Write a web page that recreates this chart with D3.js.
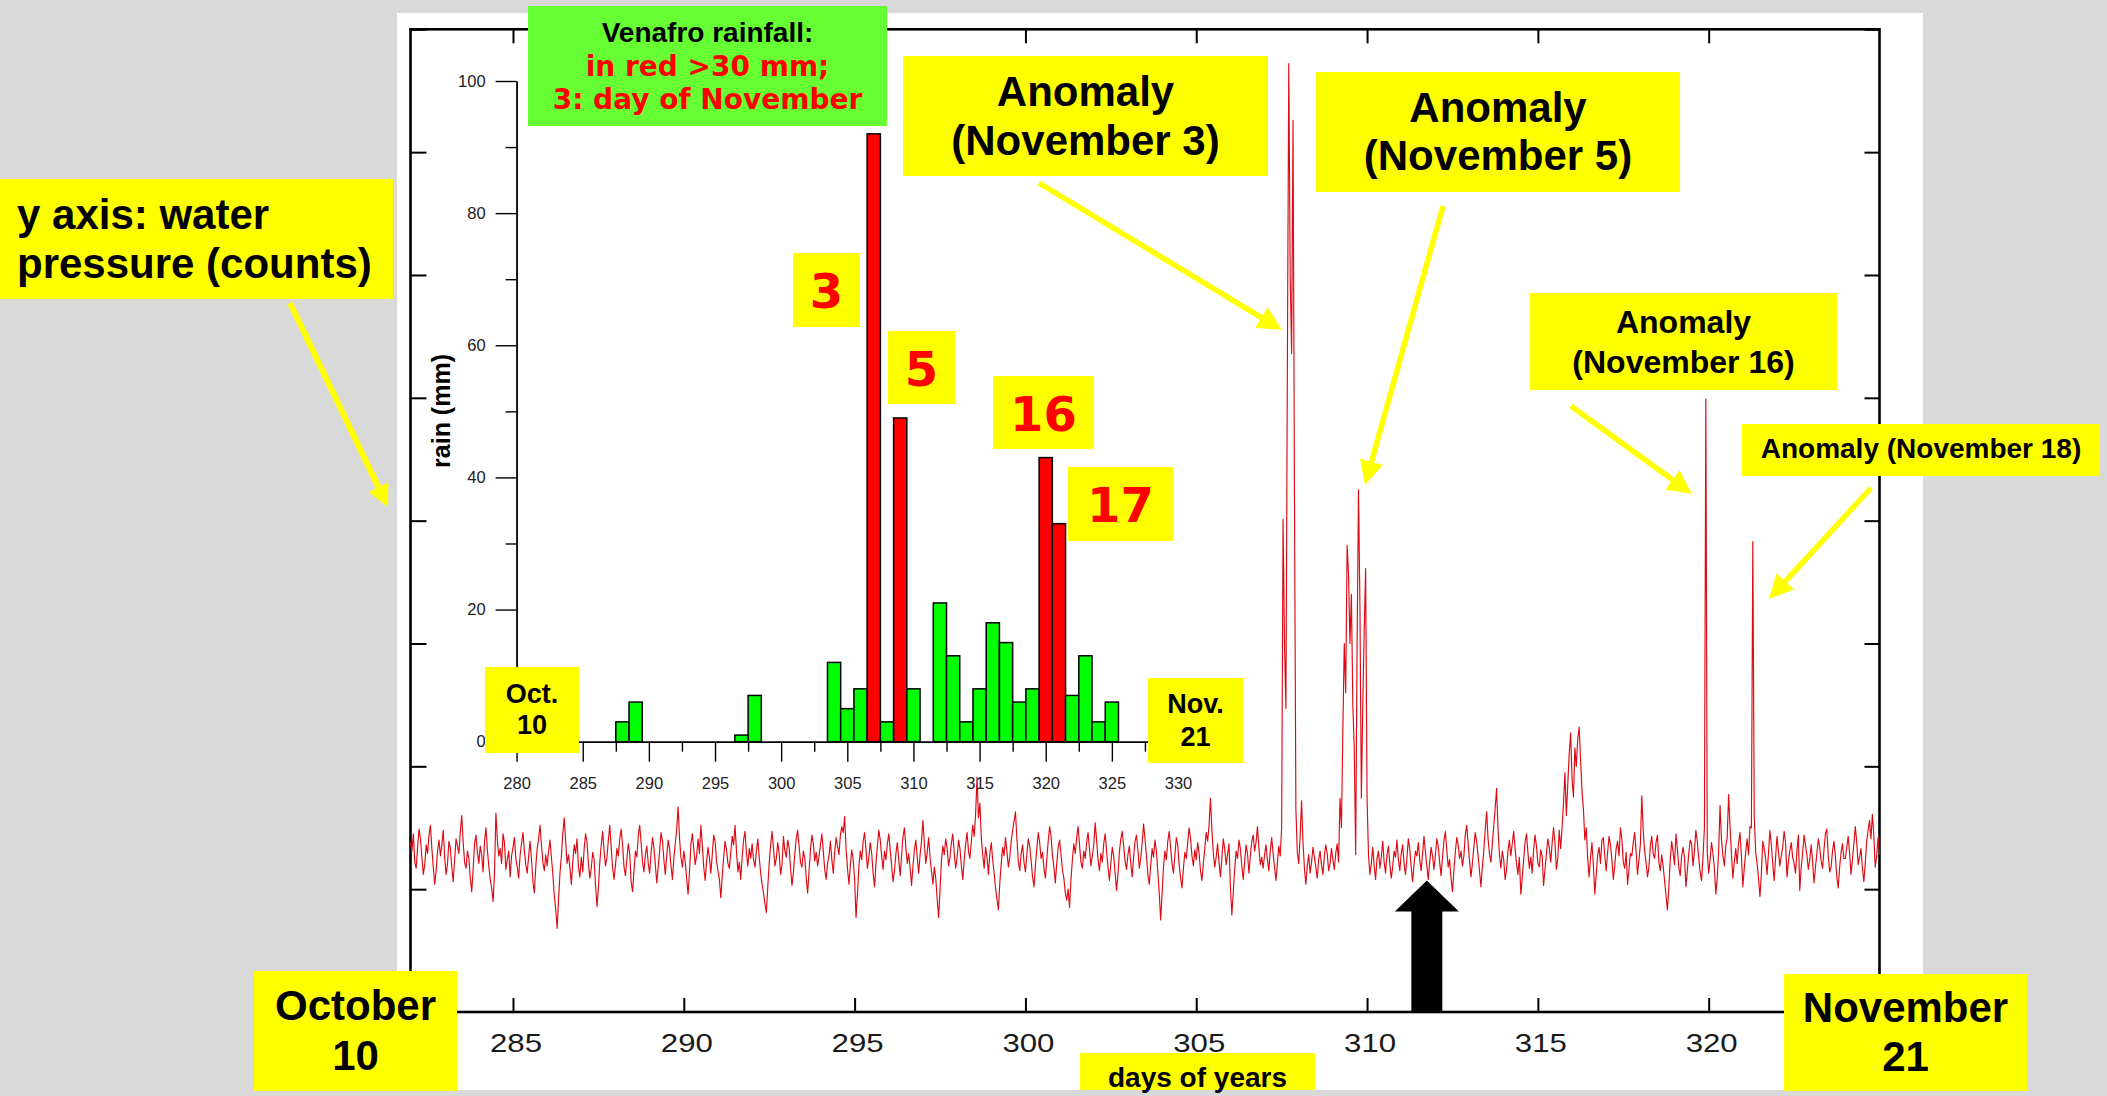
<!DOCTYPE html>
<html>
<head>
<meta charset="utf-8">
<script src="https://cdn.jsdelivr.net/npm/d3@7"></script>
<style>
  html, body { margin: 0; padding: 0; background: #d9d9d9; }
  svg { display: block; }
</style>
</head>
<body>
<svg id="chart" width="2107" height="1096"></svg>
<script>
// ---------------- data ----------------
// Water pressure (counts), hourly samples starting at day-of-year 282
const pressureStartDay = 282;
const samplesPerDay = 24;
const pressure = [
  138,131,145,122,117,134, 149,141,126,112,120,136, 129,144,152,133,118,104, 115,131,140,127,136,148, // 282
  126,112,121,139,133,118, 106,124,141,135,129,147, 160,138,122,117,131,125, 109,98,116,137,144,130,  // 283
  121,135,128,114,139,150, 132,119,108,101,90,112,  162,140,127,133,121,145, 138,116,124,131,110,127, // 284
  134,142,125,118,109,128, 137,146,131,120,113,127, 139,124,106,97,118,133,  141,152,136,122,115,128, // 285
  119,131,140,126,112,95,  84,68,91,113,127,145,    158,139,121,128,117,104, 122,136,129,141,118,110, // 286
  126,114,133,145,138,121, 109,117,130,124,103,86,  101,122,136,147,131,119, 126,140,152,134,117,108, // 287
  120,133,127,141,149,136, 118,111,124,137,129,106, 98,115,131,126,143,152,  138,122,114,128,135,121, // 288
  113,129,142,134,120,105, 118,131,146,139,124,112, 127,140,133,119,108,125, 137,149,167,141,126,118, // 289
  131,122,109,96,114,137,  145,133,120,127,141,129, 152,136,118,107,122,134, 126,113,128,144,139,123, // 290
  115,108,93,110,126,139,  132,121,117,130,143,136, 152,131,114,122,108,126, 140,147,129,119,133,125, // 291
  137,124,118,131,141,126, 113,104,97,88,81,102,    121,136,147,133,119,125, 138,129,112,120,143,131, // 292
  126,140,134,117,103,114, 129,141,148,135,122,118, 131,125,109,97,115,132,  144,137,123,130,119,127, // 293
  136,145,131,116,108,121, 127,139,124,113,130,142, 135,128,144,151,146,159, 133,117,104,119,132,124, // 294
  108,77,96,118,131,124,   139,146,132,117,126,138, 129,113,102,121,135,148, 140,127,116,131,124,137, // 295
  145,132,119,106,115,129, 138,124,111,127,143,150, 134,121,129,117,103,119, 132,140,126,113,128,139, // 296
  156,137,121,130,142,126, 115,104,118,109,92,77,   99,123,135,128,141,133,  119,126,138,145,129,117, // 297
  126,140,133,119,108,124, 137,146,131,125,139,152, 143,161,191,158,170,142, 128,117,134,126,112,129, // 298
  138,124,113,101,92,83,   105,121,134,127,142,131, 118,126,139,148,155,163, 141,123,115,129,136,122, // 299
  114,128,141,135,123,110, 102,119,133,146,138,125, 130,117,109,124,139,151, 143,127,118,105,121,134, // 300
  140,128,116,109,97,91,   100,85,108,124,137,129,  142,151,136,122,117,131, 125,138,146,133,119,127, // 301
  136,154,140,124,115,129, 122,137,145,131,118,107, 121,134,127,113,99,112,  130,141,147,135,123,116, // 302
  128,135,121,110,126,139, 144,132,117,125,138,153, 141,127,112,104,119,133, 126,140,131,114,97,75,   // 303
  96,118,131,124,139,147,  134,121,113,128,142,136, 120,109,101,117,130,125, 138,150,141,127,119,132, // 304
  124,138,129,115,107,121, 133,146,139,152,174,148, 129,118,126,137,122,110, 125,141,133,120,128,137, // 305
  102,79,97,116,131,125,   140,133,119,108,122,136, 129,113,127,139,144,131, 138,151,134,120,126,117, // 306
  128,136,124,115,131,142, 129,118,107,121,135,127, 150,401,300,247,520,772, 600,536,726,420,165,130, // 307
  121,143,172,138,117,104, 119,128,113,122,134,126, 118,109,124,131,120,112, 127,136,129,115,121,133, // 308
  124,116,129,137,122,174, 150,230,300,260,380,356, 300,340,250,215,128,300, 425,330,174,250,310,361, // 309
  174,128,112,121,134,119, 108,125,131,117,126,139, 122,113,128,135,120,109, 118,131,126,140,124,115, // 310
  129,136,121,112,125,141, 133,118,106,120,131,127, 138,124,115,129,143,130, 119,108,122,134,127,116, // 311
  128,141,135,122,111,126, 139,147,132,118,124,109, 98,115,130,142,136,125,  131,119,127,144,152,137, // 312
  123,110,121,134,146,139, 127,115,102,118,131,148, 163,141,129,122,137,151, 166,182,149,128,117,131, // 313
  124,108,116,131,140,127, 137,147,133,121,112,126, 96,109,124,138,145,130,  117,126,113,132,144,135, // 314
  121,118,132,127,103,116, 129,141,134,122,137,150, 138,116,125,148,133,150, 170,195,160,185,210,227, // 315
  190,175,215,200,222,232, 205,180,165,140,150,125, 110,126,138,119,96,112,  128,134,121,140,142,127, // 316
  115,130,143,136,124,108, 119,133,139,127,150,141, 122,117,130,104,116,129, 127,138,146,131,112,124, // 317
  136,176,148,131,122,110, 118,135,143,129,125,138, 144,122,115,128,119,107, 95,83,101,124,139,130,   // 318
  120,145,133,118,111,127, 134,126,102,115,129,140, 137,119,131,148,139,125, 114,107,126,150,499,130, // 319
  113,124,138,129,117,96,  109,131,168,140,127,119, 135,142,177,151,128,109, 122,133,121,138,146,127, // 320
  102,117,130,141,128,151, 150,383,160,130,121,109, 94,112,139,133,125,112,  129,148,136,121,107,126, // 321
  143,131,119,127,134,147, 138,110,122,131,138,126, 121,113,131,144,99,118,  129,144,136,128,116,124, // 322
  136,122,105,118,129,141, 134,123,117,132,145,149, 127,114,118,131,139,127, 110,101,118,130,137,125, // 323
  125,134,143,129,112,124, 137,151,138,120,126,133, 117,106,121,139,148,156, 141,161,144,118,127,142, // 324
  128                                                                                                  // 325
];

// Venafro daily rainfall (mm) by day of year
const rainDays = [285,286,287,288,289,290,291,292,293,294,295,296,297,298,299,300,301,302,303,
                  304,305,306,307,308,309,310,311,312,313,314,315,316,317,318,319,320,321,322,323,324,325];
const rainMm   = [0,0,0,3,6,0,0,0,0,0,0,0,1,7,0,0,0,0,0,
                  12,5,8,92,3,49,8,0,21,13,3,8,18,15,6,8,43,33,7,13,3,6];
const heavyRainMm = 30;

// Tick values
const dayTicks = [285,290,295,300,305,310,315,320];
const countTicks = [0,100,200,300,400,500,600,700,800];
const rainDayTicks = [280,285,290,295,300,305,310,315,320,325,330];
const rainDayMinorTicks = [282.5,287.5,292.5,297.5,302.5,307.5,312.5,317.5,322.5,327.5];
const rainTicks = [0,20,40,60,80,100];
const rainMinorTicks = [10,30,50,70,90];

// Low-pressure marker (black arrow) position
const markerDay = 311.75;
const markerCount = 107;

// ---------------- drawing ----------------
const svg = d3.select("#chart");
const ARIAL = "'Liberation Sans', Arial, sans-serif";
const VERDANA = "'DejaVu Sans', Verdana, sans-serif";
const YELLOW = "#ffff00";

// page and white panel
svg.append("rect").attr("width", 2107).attr("height", 1096).attr("fill", "#d9d9d9");
svg.append("rect").attr("x", 397).attr("y", 13).attr("width", 1526).attr("height", 1077).attr("fill", "#fff");

// main pressure plot
const frame = { left: 410.5, right: 1879.5, top: 29.3, bottom: 1012 };
const x = d3.scaleLinear().domain([282, 325]).range([frame.left, frame.right]);
const y = d3.scaleLinear().domain([0, 800]).range([frame.bottom, frame.top]);

const main = svg.append("g");

const axisStyle = (g, w) => {
  g.select(".domain").remove();
  g.selectAll(".tick line").attr("stroke", "#000").attr("stroke-width", w);
};

main.append("g").attr("transform", `translate(0,${frame.bottom})`)
  .call(d3.axisBottom(x).tickValues(dayTicks).tickSize(-14).tickFormat(""))
  .call(g => axisStyle(g, 2));
main.append("g").attr("transform", `translate(0,${frame.top})`)
  .call(d3.axisTop(x).tickValues(dayTicks).tickSize(-14).tickFormat(""))
  .call(g => axisStyle(g, 2));
main.append("g").attr("transform", `translate(${frame.left},0)`)
  .call(d3.axisLeft(y).tickValues(countTicks).tickSize(-16).tickFormat(""))
  .call(g => axisStyle(g, 2));
main.append("g").attr("transform", `translate(${frame.right},0)`)
  .call(d3.axisRight(y).tickValues(countTicks).tickSize(-15).tickFormat(""))
  .call(g => axisStyle(g, 2));

// day labels under the bottom axis
main.append("g").selectAll("text").data(dayTicks).join("text")
  .attr("transform", d => `translate(${x(d) + 3},1052) scale(1.2,1)`)
  .attr("text-anchor", "middle")
  .attr("font-family", ARIAL).attr("font-size", 26).attr("fill", "#1a1a1a")
  .text(d => d);

main.append("rect")
  .attr("x", frame.left).attr("y", frame.top)
  .attr("width", frame.right - frame.left).attr("height", frame.bottom - frame.top)
  .attr("fill", "none").attr("stroke", "#000").attr("stroke-width", 2.6);

const series = pressure.map((v, i) => ({ day: pressureStartDay + i / samplesPerDay, v }));
main.append("path")
  .datum(series)
  .attr("fill", "none")
  .attr("stroke", "#dd0a14")
  .attr("stroke-width", 1.15)
  .attr("stroke-linejoin", "round")
  .attr("d", d3.line().x(d => x(d.day)).y(d => y(d.v)));

// rainfall inset
const xr = d3.scaleLinear().domain([280, 330]).range([516.6, 1178]);
const yr = d3.scaleLinear().domain([0, 100]).range([741.7, 81]);
const inset = svg.append("g");

inset.append("g").attr("transform", `translate(${xr(280)},0)`)
  .call(d3.axisLeft(yr).tickValues(rainMinorTicks).tickSize(11).tickSizeOuter(0).tickFormat(""))
  .call(g => g.selectAll("line,path").attr("stroke", "#000").attr("stroke-width", 1.4));
inset.append("g").attr("transform", `translate(${xr(280)},0)`)
  .call(d3.axisLeft(yr).tickValues(rainTicks).tickSize(21).tickPadding(10).tickSizeOuter(0))
  .call(g => {
    g.selectAll("line,path").attr("stroke", "#000").attr("stroke-width", 1.4);
    g.selectAll("text").attr("font-family", ARIAL).attr("font-size", 16.5).attr("fill", "#222");
  });

inset.append("g").attr("transform", `translate(0,${yr(0)})`)
  .call(d3.axisBottom(xr).tickValues(rainDayMinorTicks).tickSize(10).tickSizeOuter(0).tickFormat(""))
  .call(g => g.selectAll("line,path").attr("stroke", "#000").attr("stroke-width", 1.4));
inset.append("g").attr("transform", `translate(0,${yr(0)})`)
  .call(d3.axisBottom(xr).tickValues(rainDayTicks).tickSize(20).tickPadding(16).tickSizeOuter(0))
  .call(g => {
    g.selectAll("line,path").attr("stroke", "#000").attr("stroke-width", 1.4);
    g.selectAll("text").attr("font-family", ARIAL).attr("font-size", 16.5).attr("fill", "#222");
  });

inset.append("text")
  .attr("transform", `translate(450,411) rotate(-90)`)
  .attr("text-anchor", "middle")
  .attr("font-family", ARIAL).attr("font-weight", "bold").attr("font-size", 25)
  .text("rain (mm)");

const rain = rainDays.map((d, i) => ({ day: d, mm: rainMm[i] }));
inset.append("g").selectAll("rect").data(rain).join("rect")
  .attr("x", d => xr(d.day - 0.5))
  .attr("width", d => xr(d.day + 0.5) - xr(d.day - 0.5))
  .attr("y", d => yr(d.mm))
  .attr("height", d => yr(0) - yr(d.mm))
  .attr("fill", d => d.mm > heavyRainMm ? "#ff0000" : "#00ff00")
  .attr("stroke", "#000").attr("stroke-width", 1.5);

// ---------------- annotations ----------------
const notes = svg.append("g");

function box(x0, y0, w, h, fill, lines) {
  notes.append("rect").attr("x", x0).attr("y", y0).attr("width", w).attr("height", h).attr("fill", fill);
  lines.forEach(l => {
    notes.append("text")
      .attr("x", l.x !== undefined ? l.x : x0 + w / 2)
      .attr("y", l.y)
      .attr("text-anchor", l.anchor || "middle")
      .attr("font-family", l.font || ARIAL)
      .attr("font-weight", "bold")
      .attr("font-size", l.size)
      .attr("fill", l.color || "#000")
      .text(l.t);
  });
}

function arrow(x1, y1, x2, y2, w, hl, hw, color) {
  const L = Math.hypot(x2 - x1, y2 - y1), ux = (x2 - x1) / L, uy = (y2 - y1) / L;
  const bx = x2 - ux * hl, by = y2 - uy * hl;
  notes.append("line").attr("x1", x1).attr("y1", y1).attr("x2", bx + ux * 2).attr("y2", by + uy * 2)
    .attr("stroke", color).attr("stroke-width", w);
  notes.append("polygon")
    .attr("points", [[x2, y2], [bx - uy * hw / 2, by + ux * hw / 2], [bx + uy * hw / 2, by - ux * hw / 2]].join(" "))
    .attr("fill", color);
}

// legend of the rainfall inset
box(528, 6, 359, 120, "#66ff33", [
  { t: "Venafro rainfall:", y: 42, size: 28 },
  { t: "in red >30 mm;", y: 76, size: 28, font: VERDANA, color: "#ff0000" },
  { t: "3: day of November", y: 109, size: 28, font: VERDANA, color: "#ff0000" }
]);

// day-of-November tags next to the heavy-rain bars
box(793, 253, 67, 74, YELLOW, [{ t: "3", y: 308, size: 48, font: VERDANA, color: "#ff0000" }]);
box(888, 331, 67, 73, YELLOW, [{ t: "5", y: 386, size: 48, font: VERDANA, color: "#ff0000" }]);
box(993, 376, 101, 73, YELLOW, [{ t: "16", y: 431, size: 48, font: VERDANA, color: "#ff0000" }]);
box(1068, 467, 105, 74, YELLOW, [{ t: "17", y: 522, size: 48, font: VERDANA, color: "#ff0000" }]);

// inset date range tags
box(485, 667, 94, 86, YELLOW, [{ t: "Oct.", y: 703, size: 27 }, { t: "10", y: 734, size: 27 }]);
box(1148, 678, 95, 85, YELLOW, [{ t: "Nov.", y: 713, size: 27 }, { t: "21", y: 746, size: 27 }]);

// anomaly call-outs
box(903, 56, 365, 120, YELLOW, [{ t: "Anomaly", y: 106, size: 42 }, { t: "(November 3)", y: 155, size: 42 }]);
box(1316, 72, 364, 120, YELLOW, [{ t: "Anomaly", y: 122, size: 42 }, { t: "(November 5)", y: 170, size: 42 }]);
box(1530, 293, 307, 97, YELLOW, [{ t: "Anomaly", y: 333, size: 32 }, { t: "(November 16)", y: 373, size: 32 }]);
box(1742, 424, 358, 52, YELLOW, [{ t: "Anomaly (November 18)", y: 458, size: 28 }]);

// axis explanations
box(0, 179, 393, 120, YELLOW, [
  { t: "y axis: water", x: 17, anchor: "start", y: 229, size: 42 },
  { t: "pressure (counts)", x: 17, anchor: "start", y: 278, size: 42 }
]);
box(254, 971, 203, 120, YELLOW, [{ t: "October", y: 1020, size: 42 }, { t: "10", y: 1070, size: 42 }]);
box(1784, 974, 243, 117, YELLOW, [{ t: "November", y: 1022, size: 42 }, { t: "21", y: 1071, size: 42 }]);
box(1080, 1053, 235, 37, YELLOW, [{ t: "days of years", y: 1087, size: 28 }]);

// yellow pointers
arrow(290, 303, 388, 507, 6, 22, 22, YELLOW);
arrow(1039, 183, 1282, 330, 5.5, 24, 24, YELLOW);
arrow(1443, 206, 1365, 485, 5.5, 24, 24, YELLOW);
arrow(1571, 406, 1692, 494, 5.5, 24, 24, YELLOW);
arrow(1871, 488, 1769, 599, 5.5, 24, 24, YELLOW);

// black arrow marking the pressure minimum after the rains
{
  const mx = x(markerDay), tipY = y(markerCount), baseY = y(0);
  const headLen = 31, headHalf = 32, shaftHalf = 15.5;
  notes.append("polygon")
    .attr("points", [
      [mx, tipY], [mx + headHalf, tipY + headLen], [mx + shaftHalf, tipY + headLen],
      [mx + shaftHalf, baseY], [mx - shaftHalf, baseY], [mx - shaftHalf, tipY + headLen],
      [mx - headHalf, tipY + headLen]
    ].join(" "))
    .attr("fill", "#000");
}
</script>
</body>
</html>
